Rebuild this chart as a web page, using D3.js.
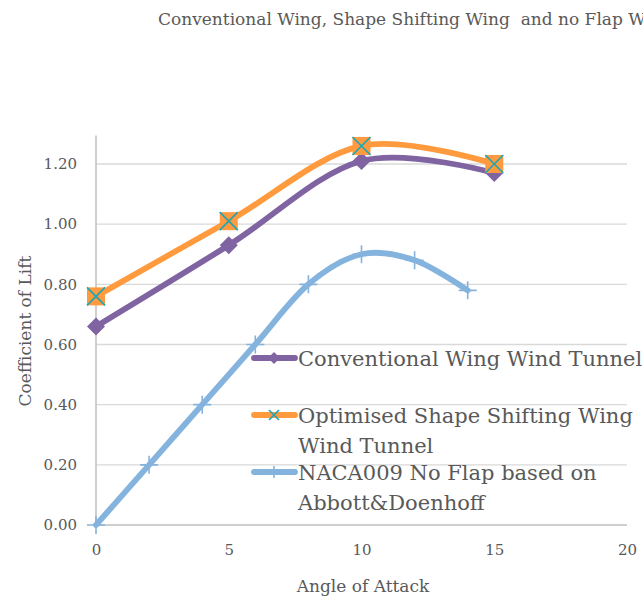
<!DOCTYPE html>
<html>
<head>
<meta charset="utf-8">
<script src="https://cdn.jsdelivr.net/npm/d3@7"></script>
<style>
  html, body { margin: 0; padding: 0; background: #fff; overflow: hidden; }
  svg { display: block; }
  text { font-family: "DejaVu Serif", "Liberation Serif", serif; fill: #595959; white-space: pre; }
</style>
</head>
<body>
<svg id="chart" width="643" height="596"></svg>
<script>
// Lift coefficient vs angle of attack
const title = "Conventional Wing, Shape Shifting Wing  and no Flap Wing";
const xTicks = [0, 5, 10, 15, 20];
const yTicks = [0, 0.2, 0.4, 0.6, 0.8, 1.0, 1.2];

const conventionalAngles = [0, 5, 10, 15];
const conventionalLift   = [0.66, 0.93, 1.21, 1.17];

const optimisedAngles = [0, 5, 10, 15];
const optimisedLift   = [0.76, 1.01, 1.26, 1.20];

const nacaAngles = [0, 2, 4, 6, 8, 10, 12, 14];
const nacaLift   = [0, 0.20, 0.40, 0.60, 0.80, 0.90, 0.88, 0.78];

const seriesNames = [
  ["Conventional Wing Wind Tunnel"],
  ["Optimised Shape Shifting Wing", "Wind Tunnel"],
  ["NACA009 No Flap based on", "Abbott&Doenhoff"]
];

const colors = { purple: "#8064A2", orange: "#FF9A3E", blue: "#84B3DD", teal: "#1AA7B8" };

const svg = d3.select("#chart");

const x = d3.scaleLinear().domain([0, 20]).range([96, 627]);
const y = d3.scaleLinear().domain([0, 1.2]).range([525, 164]);
const yTop = 1.295;

// title
svg.append("text")
  .attr("x", 158).attr("y", 25)
  .attr("xml:space", "preserve")
  .style("font-size", "17px")
  .text(title);

// gridlines
svg.append("g").selectAll("line")
  .data(yTicks.filter(d => d > 0))
  .join("line")
  .attr("x1", x(0)).attr("x2", x(20))
  .attr("y1", d => y(d)).attr("y2", d => y(d))
  .attr("stroke", "#D9D9D9").attr("stroke-width", 1.3);

// axes
const yAxis = svg.append("g")
  .attr("transform", `translate(${x(0)},0)`)
  .call(d3.axisLeft(y).tickValues(yTicks).tickFormat(d3.format(".2f")).tickSize(0).tickPadding(19));
yAxis.select(".domain").remove();
yAxis.selectAll("text").style("font-size", "15px").attr("fill", "#595959").style("font-family", "DejaVu Serif");
svg.append("line")
  .attr("x1", x(0)).attr("x2", x(0))
  .attr("y1", y(yTop)).attr("y2", y(0))
  .attr("stroke", "#BFBFBF").attr("stroke-width", 1.5);

const xAxis = svg.append("g")
  .attr("transform", `translate(0,${y(0)})`)
  .call(d3.axisBottom(x).tickValues(xTicks).tickFormat(d3.format("d")).tickSize(0).tickPadding(19));
xAxis.select(".domain").remove();
xAxis.selectAll("text").style("font-size", "15px").attr("fill", "#595959").style("font-family", "DejaVu Serif");
svg.append("line")
  .attr("x1", x(0)).attr("x2", x(20))
  .attr("y1", y(0)).attr("y2", y(0))
  .attr("stroke", "#BFBFBF").attr("stroke-width", 1.5);

// axis titles
svg.append("text")
  .attr("transform", `translate(31,331) rotate(-90)`)
  .attr("text-anchor", "middle")
  .style("font-size", "17px")
  .text("Coefficient of Lift");
svg.append("text")
  .attr("x", 363).attr("y", 592)
  .attr("text-anchor", "middle")
  .style("font-size", "17px")
  .text("Angle of Attack");

const line = d3.line().curve(d3.curveCatmullRom.alpha(0)).x(d => x(d[0])).y(d => y(d[1]));
const zip = (a, b) => a.map((v, i) => [v, b[i]]);

const conv = zip(conventionalAngles, conventionalLift);
const opt = zip(optimisedAngles, optimisedLift);
const naca = zip(nacaAngles, nacaLift);

// marker drawers
function diamond(g, cx, cy, r) {
  g.append("path")
    .attr("d", `M${cx},${cy - r}L${cx + r},${cy}L${cx},${cy + r}L${cx - r},${cy}Z`)
    .attr("fill", colors.purple);
}
function crossSquare(g, cx, cy, h, square) {
  if (square) {
    g.append("rect").attr("x", cx - h).attr("y", cy - h)
      .attr("width", 2 * h).attr("height", 2 * h).attr("fill", colors.orange);
  }
  g.append("path")
    .attr("d", `M${cx - h},${cy - h}L${cx + h},${cy + h}M${cx + h},${cy - h}L${cx - h},${cy + h}`)
    .attr("stroke", colors.teal).attr("stroke-width", 1.6).attr("fill", "none");
}
function plus(g, cx, cy, h) {
  g.append("path")
    .attr("d", `M${cx - h},${cy}L${cx + h},${cy}M${cx},${cy - h}L${cx},${cy + h}`)
    .attr("stroke", colors.blue).attr("stroke-width", 1.6).attr("fill", "none");
}

// series lines
const lineWidth = 5.8;
const plot = svg.append("g");
plot.append("path").datum(naca).attr("d", line)
  .attr("fill", "none").attr("stroke", colors.blue).attr("stroke-width", lineWidth).attr("stroke-linecap", "round");
naca.forEach(d => plus(plot, x(d[0]), y(d[1]), 9));

plot.append("path").datum(conv).attr("d", line)
  .attr("fill", "none").attr("stroke", colors.purple).attr("stroke-width", lineWidth).attr("stroke-linecap", "round");
conv.forEach(d => diamond(plot, x(d[0]), y(d[1]), 9));

plot.append("path").datum(opt).attr("d", line)
  .attr("fill", "none").attr("stroke", colors.orange).attr("stroke-width", lineWidth).attr("stroke-linecap", "round");
opt.forEach(d => crossSquare(plot, x(d[0]), y(d[1]), 9, true));

// legend
const legend = svg.append("g");
const legendRows = [358, 415, 472];
const lx0 = 254, lx1 = 295, lmid = 274;
const legendColors = [colors.purple, colors.orange, colors.blue];
legendRows.forEach((ry, i) => {
  legend.append("line")
    .attr("x1", lx0).attr("x2", lx1).attr("y1", ry).attr("y2", ry)
    .attr("stroke", legendColors[i]).attr("stroke-width", lineWidth).attr("stroke-linecap", "round");
  if (i === 0) diamond(legend, lmid, ry, 6);
  if (i === 1) crossSquare(legend, lmid, ry, 5, false);
  if (i === 2) plus(legend, lmid, ry, 6);
  const t = legend.append("text").attr("x", 298).attr("y", ry + 7.5).style("font-size", "21px");
  seriesNames[i].forEach((s, j) => {
    t.append("tspan").attr("x", 298).attr("dy", j === 0 ? 0 : 30).text(s);
  });
});
</script>
</body>
</html>
